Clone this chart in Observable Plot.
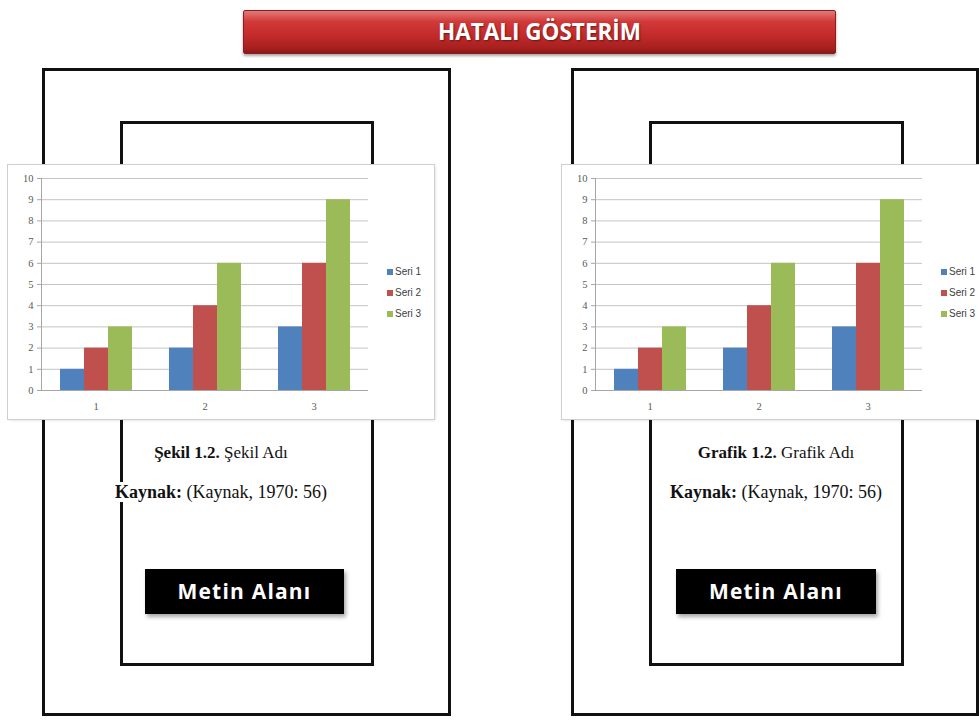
<!DOCTYPE html>
<html><head><meta charset="utf-8">
<script src="https://cdn.jsdelivr.net/npm/d3@7"></script>
<script src="https://cdn.jsdelivr.net/npm/@observablehq/plot@0.6"></script>
<style>
html,body{margin:0;padding:0;overflow:hidden;background:#fff;}
#stage{position:relative;width:979px;height:720px;overflow:hidden;background:#fff;}
.box{position:absolute;border:3px solid #111;box-sizing:border-box;}
.title{position:absolute;left:243px;top:10px;width:593px;height:44px;box-sizing:border-box;
  background:linear-gradient(to bottom,#e37a7a 0%,#d23a3a 25%,#c22a2a 60%,#a51f1f 90%,#8a1818 100%);
  border:1px solid #8e1c1c;border-radius:2px;box-shadow:0 2px 3px rgba(0,0,0,0.35);
  color:#fff;font-family:"Open Sans",sans-serif;font-weight:700;font-size:22.5px;line-height:42px;text-align:center;
  text-shadow:1px 1px 2px rgba(0,0,0,0.45);}
.panel{position:absolute;top:165px;width:426px;height:254px;background:#fff;
  box-shadow:0 0 0 1px #cfcfcf,1px 1px 3px rgba(0,0,0,0.18);}
.panel svg{position:absolute;left:0;top:0;}
.legend{position:absolute;left:379px;top:99px;font-family:"Liberation Sans",Arial,sans-serif;font-size:10px;color:#404040;}
.legend div{height:21px;line-height:16px;white-space:nowrap;}
.legend span.sw{display:inline-block;width:6px;height:6px;margin-right:2px;vertical-align:0px;}
.cap{position:absolute;transform:translateX(-50%);white-space:nowrap;font-family:"Liberation Serif","Times New Roman",serif;color:#111;}
.cap span.bg{background:#fff;}
.metin{position:absolute;top:569px;height:45px;background:#000;color:#fff;box-shadow:2px 3px 4px rgba(0,0,0,0.35);
  font-family:"Open Sans",sans-serif;font-weight:700;font-size:21px;letter-spacing:1.2px;line-height:45px;text-align:center;}
</style></head>
<body><div id="stage"></div>
<script>
// ---- data ----
const categories = ["1", "2", "3"];
const seriesNames = ["Seri 1", "Seri 2", "Seri 3"];
const seri1 = [1, 2, 3];
const seri2 = [2, 4, 6];
const seri3 = [3, 6, 9];
const seriesColors = ["#4F81BD", "#C0504D", "#9BBB59"];
const yTicks = [0, 1, 2, 3, 4, 5, 6, 7, 8, 9, 10];
const titleText = "HATALI GÖSTERİM";
const leftCaption = ["Şekil 1.2.", "Şekil Adı"];
const rightCaption = ["Grafik 1.2.", "Grafik Adı"];
const sourceLabel = ["Kaynak:", "(Kaynak, 1970: 56)"];
const textAreaLabel = "Metin Alanı";

const seriesValues = [seri1, seri2, seri3];
const rows = [];
seriesNames.forEach((s, si) => categories.forEach((c, ci) => rows.push({cat: c, series: s, value: seriesValues[si][ci]})));

const stage = document.getElementById("stage");
function el(tag, cls, style, html) {
  const e = document.createElement(tag);
  if (cls) e.className = cls;
  if (style) Object.assign(e.style, style);
  if (html != null) e.innerHTML = html;
  stage.appendChild(e);
  return e;
}

// title
el("div", "title", null).textContent = titleText;

// frames
el("div", "box", {left: "42px", top: "68px", width: "409px", height: "648px"});
el("div", "box", {left: "120px", top: "121px", width: "254px", height: "545px"});
el("div", "box", {left: "571px", top: "68px", width: "408px", height: "648px"});
el("div", "box", {left: "649px", top: "121px", width: "255px", height: "545px"});

function makeChart() {
  return Plot.plot({
    width: 426, height: 254,
    marginLeft: 32, marginRight: 66, marginTop: 13, marginBottom: 29,
    style: {fontFamily: "'Liberation Serif', serif", fontSize: "10.5px", color: "#595959", background: "transparent"},
    fx: {domain: categories, padding: 0, label: null, axis: "bottom", tickSize: 0, tickPadding: 12},
    x: {domain: seriesNames, paddingInner: 0, paddingOuter: 0.74, axis: null},
    y: {domain: [0, 10], ticks: yTicks, label: null},
    color: {domain: seriesNames, range: seriesColors},
    marks: [
      Plot.gridY(yTicks, {stroke: "#c4c4c4", strokeOpacity: 1}),
      Plot.barY(rows, {fx: "cat", x: "series", y: "value", fill: "series"}),
      Plot.ruleY([0], {stroke: "#a6a6a6"}),
      Plot.frame({anchor: "left", facetAnchor: "left", stroke: "#a6a6a6"}),
      Plot.axisY(yTicks, {tickSize: 4, tickPadding: 4, stroke: "#a6a6a6", fill: "#595959", label: null})
    ]
  });
}

function makePanel(left) {
  const p = el("div", "panel", {left: left + "px"});
  p.appendChild(makeChart());
  const lg = document.createElement("div");
  lg.className = "legend";
  seriesNames.forEach((s, i) => {
    const r = document.createElement("div");
    r.innerHTML = `<span class="sw" style="background:${seriesColors[i]}"></span>${s}`;
    lg.appendChild(r);
  });
  p.appendChild(lg);
}
makePanel(8);
makePanel(562);

function captions(cx, cap) {
  el("div", "cap", {left: cx + "px", top: "443px", fontSize: "17px"}, `<b>${cap[0]}</b> ${cap[1]}`);
  el("div", "cap", {left: cx + "px", top: "482px", fontSize: "18px"}, `<span class="bg"><b>${sourceLabel[0]}</b> ${sourceLabel[1]}</span>`);
}
captions(221, leftCaption);
captions(776, rightCaption);

el("div", "metin", {left: "145px", width: "199px"}).textContent = textAreaLabel;
el("div", "metin", {left: "676px", width: "200px"}).textContent = textAreaLabel;
</script>
</body></html>
